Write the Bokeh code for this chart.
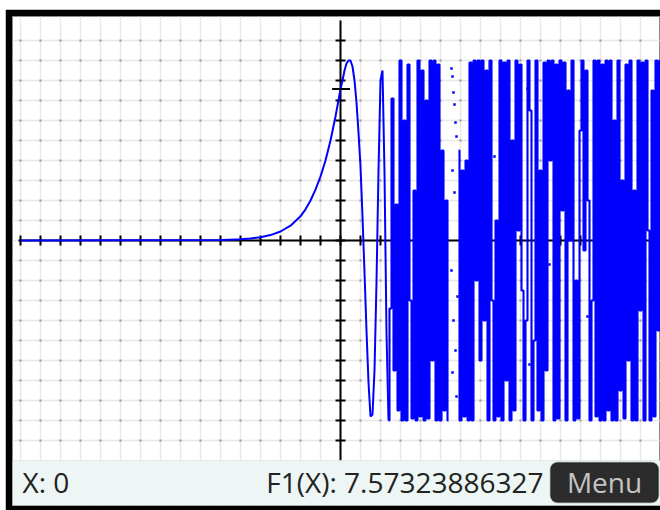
import numpy as np
from bokeh.plotting import figure
from bokeh.models import Range1d, FixedTicker, BoxAnnotation, Label, Grid
from bokeh.embed import file_html
from bokeh.resources import INLINE

nan = float("nan")

# ---- data -----------------------------------------------------------------
# slowly varying part of F1 (x, y)
x_smooth = [-16, -6, -5.5, -5, -4.5, -4, -3.5, -3, -2.5, -2, -1.75, -1.5, -1.25, -1,
            -0.75, -0.5, -0.25, 0, 0.1, 0.2, 0.3, 0.4, 0.5, 0.6, 0.7, 0.8, 0.9, 1.0,
            1.1, 1.2, 1.3, 1.4, 1.5, 1.6, 1.7, 1.8, 1.9, 2.0, 2.1, 2.2, 2.3, 2.4]
y_smooth = [0.0, 0.02, 0.04, 0.06, 0.1, 0.16, 0.27, 0.45, 0.74, 1.21, 1.56, 2.0, 2.54, 3.2,
            4.0, 5.0, 6.2, 7.57, 8.0, 8.5, 8.85, 9.0, 9.0, 8.7, 8.0, 6.9, 5.4, 3.7,
            1.2, -1.6, -4.5, -7.1, -8.8, -8.7, -6.5, -2.1, 3.5, 8.0, 8.5, 3.4, -4.6, -9.0]

# fast-oscillating part: calculator samples one value every 0.1 from x = 2.5
# (nan = columns where only isolated dots were drawn)
fast_start = 2.5
fast_step = 0.1
y_fast = [
    -3.4, 7.1, -6.5, 1.8, -8.5,                               # 2.5 - 2.9
    9.0, -9.0, 6.0, -9.0, 8.8, -3.0, -8.9, 2.5, -9.0, 9.0,    # 3.0 - 3.9
    -8.8, 8.5, -9.0, 7.0, -8.9, 9.0, -6.0, 9.0, -9.0, 8.8,    # 4.0 - 4.9
    -9.0, 4.5, -8.5, 2.0, -9.0, nan, nan, nan, nan, 4.5,      # 5.0 - 5.9
    -9.0, 3.5, -8.8, 4.0, -9.0, 8.9, -9.0, 9.0, -2.0, 9.0,    # 6.0 - 6.9
    -6.0, 9.0, -4.0, 8.5, -9.0, 9.0, -3.0, -9.0, 1.0, -8.8,   # 7.0 - 7.9
    9.0, -9.0, 8.9, -7.0, 9.0, -9.0, 5.0, -8.5, 9.0, 0.5,     # 8.0 - 8.9
    8.8, -2.5, -9.0, -4.0, 9.0, 6.5, -9.0, -5.0, 9.0, -8.5,   # 9.0 - 9.9
    3.5, -9.0, 8.9, -6.5, 9.0, 4.0, 9.0, -9.0, 8.8, -8.9,     # 10.0 - 10.9
    9.0, 1.5, 8.9, -9.0, 7.5, 0.0, 9.0, -9.0, -2.0, -8.9,     # 11.0 - 11.9
    5.5, 9.0, -0.5, 8.5, 2.0, -9.0, -3.0, 9.0, -8.8, 9.0,     # 12.0 - 12.9
    -9.0, 8.8, -9.0, 9.0, -8.5, 9.0, -9.0, 6.0, -9.0, 9.0,    # 13.0 - 13.9
    -7.5, 3.0, -8.9, 8.8, -6.0, 9.0, -9.0, 2.5, -9.0, 9.0,    # 14.0 - 14.9
    -3.5, 8.9, -9.0, 9.0, 0.5, -9.0, 7.5, -8.8, 9.0, -4.5,    # 15.0 - 15.9
    9.0,                                                      # 16.0
]

# isolated plotted dots
dots_x = [5.55, 5.6, 5.65, 5.7, 5.75, 5.8, 5.6, 5.7, 5.55, 5.85, 5.65, 5.75, 5.6, 5.8,
          9.35, 9.45, 12.25, 12.35, 7.7, 10.45]
dots_y = [8.6, 8.2, 7.4, 6.8, 5.9, 5.2, 3.5, 2.4, -1.5, -2.8, -4.0, -5.5, -6.6, -7.8,
          7.6, -6.2, 6.9, -3.8, 4.2, -1.2]

cursor_x = 0
cursor_value = 7.57323886327
status_left = "X: 0"
status_right = "F1(X): 7.57323886327"
button_text = "Menu"

x_ticks = list(range(-16, 17))
y_ticks = list(range(-10, 11))

# ---- build ----------------------------------------------------------------
x_fast = [round(fast_start + fast_step * i, 2) for i in range(len(y_fast))]

p = figure(width=655, height=501,
           x_range=Range1d(-16.4, 16.0), y_range=Range1d(-13.25, 11.2),
           output_backend="svg", toolbar_location=None,
           x_axis_type=None, y_axis_type=None,
           min_border_left=7, min_border_right=0, min_border_top=7, min_border_bottom=5,
           border_fill_color="black", background_fill_color="white",
           outline_line_color="#8a8a8a", outline_line_width=1)
p.margin = (9, 0, 0, 5)

p.add_layout(Grid(dimension=0, ticker=FixedTicker(ticks=x_ticks),
                  grid_line_color="#e8e8e8", grid_line_width=1.5))
p.add_layout(Grid(dimension=1, ticker=FixedTicker(ticks=y_ticks),
                  grid_line_color="#e8e8e8", grid_line_width=1.5))

gx, gy = np.meshgrid(x_ticks, y_ticks)
p.scatter(gx.ravel(), gy.ravel(), marker="square", size=2.2,
          fill_color="#9a9a9a", line_color=None)

# axes
p.segment(x0=[x_ticks[0] - 0.1], y0=[0], x1=[x_ticks[-1]], y1=[0], line_color="black", line_width=2)
p.segment(x0=[0], y0=[11.0], x1=[0], y1=[-11.0], line_color="black", line_width=2)
p.segment(x0=x_ticks, y0=[-0.25] * len(x_ticks), x1=x_ticks, y1=[0.25] * len(x_ticks),
          line_color="black", line_width=2)
p.segment(x0=[-0.25] * len(y_ticks), y0=y_ticks, x1=[0.25] * len(y_ticks), y1=y_ticks,
          line_color="black", line_width=2)

# curve: smooth part as a line, fast part as the calculator's per-column steps
p.line(x_smooth, y_smooth, line_color="#0000ff", line_width=2)
p.step([x_smooth[-1]] + x_fast, [y_smooth[-1]] + y_fast, mode="center",
       line_color="#0000ff", line_width=2.1)
p.scatter(dots_x, dots_y, marker="square", size=2.5, fill_color="#0000ff", line_color=None)

# cursor
p.segment(x0=[cursor_x - 0.42], y0=[cursor_value], x1=[cursor_x + 0.48], y1=[cursor_value],
          line_color="black", line_width=2)

# status bar
p.add_layout(BoxAnnotation(top=-11.0, fill_color="#edf5f5", fill_alpha=1.0,
                           line_color="#bfc6c6", line_width=1))
p.add_layout(BoxAnnotation(left=10.5, right=15.9, top=-11.1, bottom=-13.1,
                           fill_color="#2c2c2c", fill_alpha=1.0,
                           line_color="#0a0a0a", line_width=1.5, border_radius=7))

p.add_layout(Label(x=-15.9, y=-12.05, text=status_left, text_font="Open Sans",
                   text_font_size="28px", text_color="#222222", text_align="left",
                   text_baseline="alphabetic"))
p.add_layout(Label(x=10.15, y=-12.05, text=status_right, text_font="Open Sans",
                   text_font_size="28px", text_color="#222222", text_align="right",
                   text_baseline="alphabetic"))
p.add_layout(Label(x=13.2, y=-12.05, text=button_text, text_font="Open Sans",
                   text_font_size="28px", text_color="#c4c4c4", text_align="center",
                   text_baseline="alphabetic"))

open("out.html", "w").write(file_html(p, INLINE))
